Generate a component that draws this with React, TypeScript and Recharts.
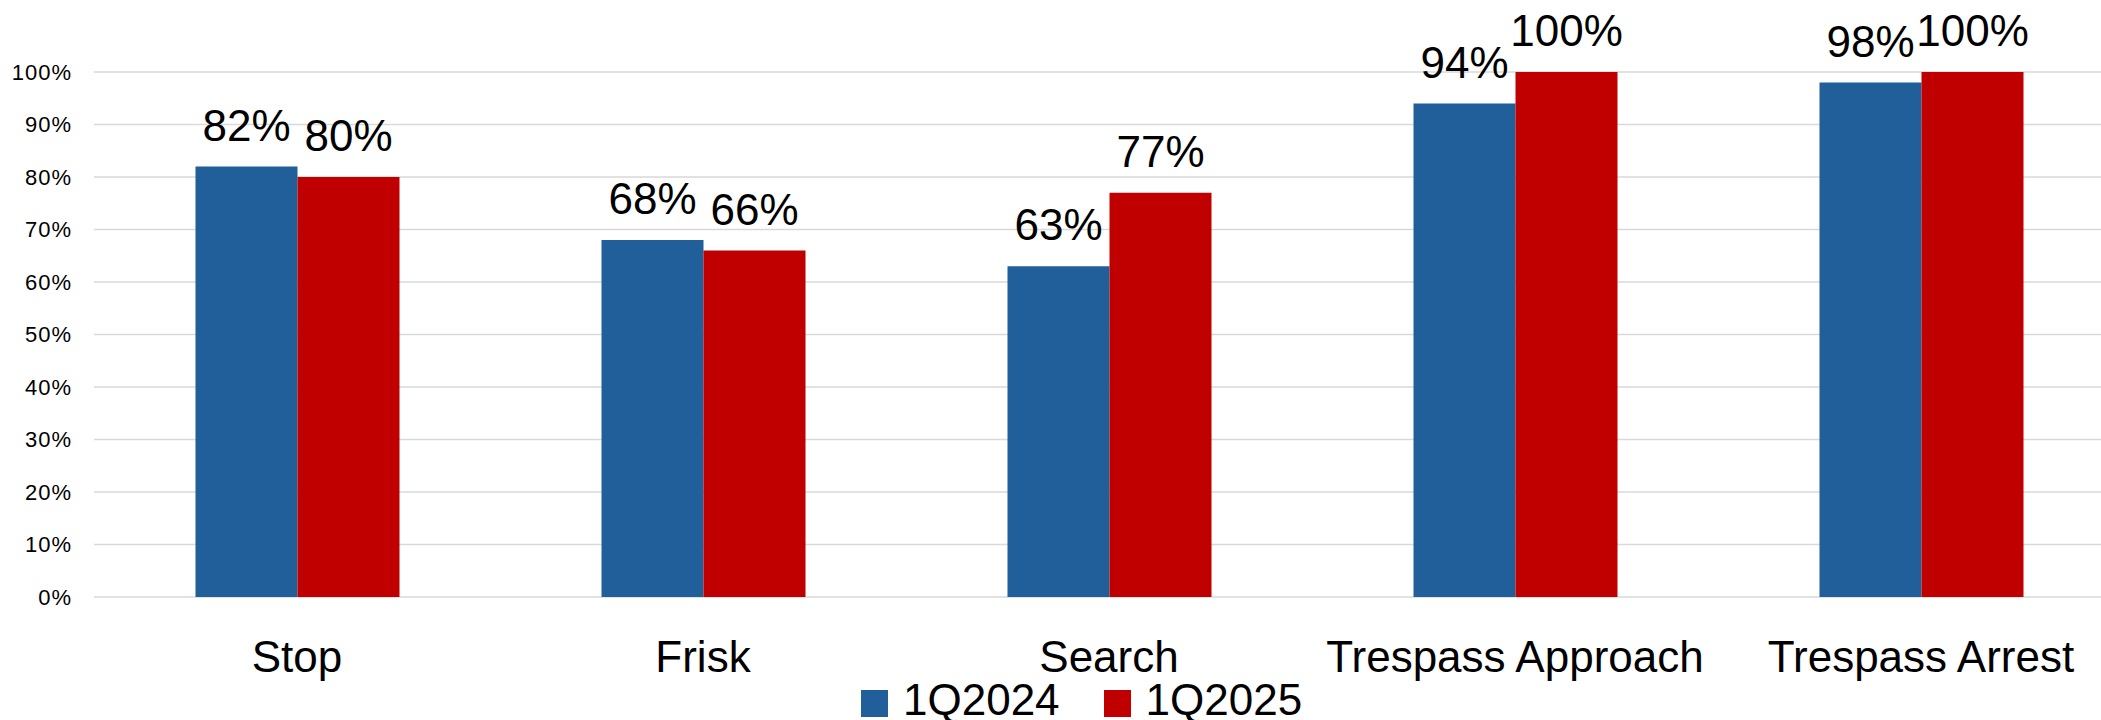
import { Bar, BarChart, CartesianGrid, LabelList, Legend, XAxis, YAxis } from "recharts";

const categories = ["Stop", "Frisk", "Search", "Trespass Approach", "Trespass Arrest"];
const q2024 = [82, 68, 63, 94, 98];
const q2025 = [80, 66, 77, 100, 100];
const yTicks = [0, 10, 20, 30, 40, 50, 60, 70, 80, 90, 100];

const seriesNames = ["1Q2024", "1Q2025"];
const blue = "#215F9A";
const red = "#C00000";

const data = categories.map((name, i) => ({ name, q2024: q2024[i], q2025: q2025[i] }));

function LegendBox() {
  const items = [
    { label: seriesNames[0], color: blue },
    { label: seriesNames[1], color: red },
  ];
  return (
    <div style={{ display: "flex", alignItems: "center", height: 40 }}>
      {items.map((item, i) => (
        <div key={item.label} style={{ display: "flex", alignItems: "center", marginRight: i === 0 ? 44 : 0 }}>
          <span
            style={{
              display: "inline-block",
              width: 27,
              height: 27,
              background: item.color,
              marginRight: 15,
              marginTop: 6,
            }}
          />
          <span style={{ fontSize: 44, lineHeight: "40px", color: "#000" }}>{item.label}</span>
        </div>
      ))}
    </div>
  );
}

export default function App() {
  return (
    <div
      style={{
        position: "fixed",
        left: 0,
        top: 0,
        width: 2101,
        height: 720,
        overflow: "hidden",
        background: "#fff",
        fontFamily: '"Liberation Sans", Arial, sans-serif',
      }}
    >
      <BarChart
        width={2124}
        height={720}
        data={data}
        margin={{ top: 72, right: 0, bottom: 0, left: 0 }}
        barCategoryGap="25%"
        barGap={0}
      >
        <CartesianGrid vertical={false} stroke="#d9d9d9" strokeWidth={1.5} />
        <XAxis
          dataKey="name"
          axisLine={false}
          tickLine={false}
          interval={0}
          height={83}
          tickMargin={37.5}
          tick={{ fill: "#000", fontSize: 44 }}
        />
        <YAxis
          type="number"
          domain={[0, 100]}
          ticks={yTicks}
          width={94}
          axisLine={false}
          tickLine={false}
          tickMargin={16}
          tick={{ fill: "#000", fontSize: 22, letterSpacing: 1 }}
          tickFormatter={(v: number) => `${v}%`}
        />
        <Legend
          verticalAlign="bottom"
          content={() => <LegendBox />}
          wrapperStyle={{ left: 861, top: 680, width: "auto" }}
        />
        <Bar dataKey="q2024" name={seriesNames[0]} fill={blue} isAnimationActive={false}>
          <LabelList
            dataKey="q2024"
            position="top"
            offset={26}
            formatter={(v: number) => `${v}%`}
            style={{ fill: "#000", fontSize: 44 }}
          />
        </Bar>
        <Bar dataKey="q2025" name={seriesNames[1]} fill={red} isAnimationActive={false}>
          <LabelList
            dataKey="q2025"
            position="top"
            offset={26}
            formatter={(v: number) => `${v}%`}
            style={{ fill: "#000", fontSize: 44 }}
          />
        </Bar>
      </BarChart>
    </div>
  );
}
